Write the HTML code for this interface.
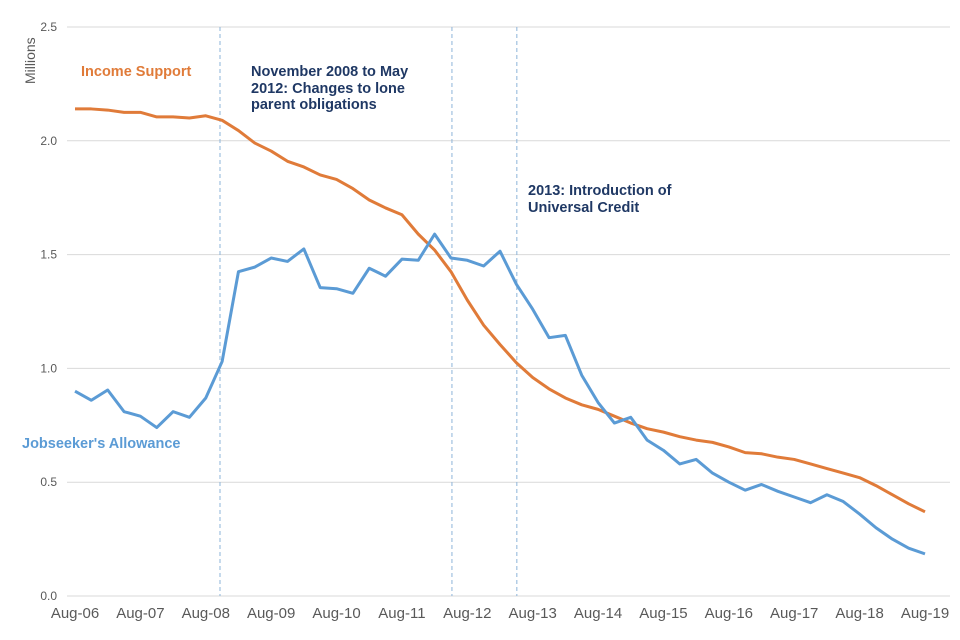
<!DOCTYPE html>
<html><head><meta charset="utf-8"><style>
body{margin:0;background:#fff;font-family:"Liberation Sans",Arial,sans-serif}
svg{display:block}
</style></head><body>
<svg id="chart" width="960" height="640" xmlns="http://www.w3.org/2000/svg">
<g id="grid"></g>
<g id="yticks"></g>
<g id="xticks"></g>
<g id="events"></g>
<g id="series"></g>
<text transform="translate(35,84) rotate(-90)" font-size="14" fill="#595959">Millions</text>
<text x="81" y="76" font-size="14.5" font-weight="bold" fill="#E07B39">Income Support</text>
<text x="22" y="448" font-size="14.5" font-weight="bold" fill="#5B9BD5">Jobseeker's Allowance</text>
<g font-size="14.5" font-weight="bold" fill="#1F3864">
<text x="251" y="76">November 2008 to May</text>
<text x="251" y="93">2012:  Changes to lone</text>
<text x="251" y="109">parent obligations</text></g>
<g font-size="14.5" font-weight="bold" fill="#1F3864">
<text x="528" y="195">2013:  Introduction of</text>
<text x="528" y="212">Universal Credit</text></g>
</svg>
<script>
const yTicks=[0,0.5,1,1.5,2,2.5];
const yTickLabels=["0.0","0.5","1.0","1.5","2.0","2.5"];
const xTickLabels=["Aug-06","Aug-07","Aug-08","Aug-09","Aug-10","Aug-11","Aug-12","Aug-13","Aug-14","Aug-15","Aug-16","Aug-17","Aug-18","Aug-19"];
const incomeSupport=[2.14,2.14,2.135,2.125,2.125,2.105,2.105,2.10,2.11,2.09,2.045,1.99,1.955,1.91,1.885,1.85,1.83,1.79,1.74,1.705,1.675,1.59,1.52,1.425,1.30,1.19,1.105,1.025,0.96,0.91,0.87,0.84,0.82,0.79,0.76,0.735,0.72,0.70,0.685,0.675,0.655,0.63,0.625,0.61,0.60,0.58,0.56,0.54,0.52,0.485,0.445,0.405,0.37];
const jsa=[0.90,0.86,0.905,0.81,0.79,0.74,0.81,0.785,0.87,1.03,1.425,1.445,1.485,1.47,1.525,1.355,1.35,1.33,1.44,1.405,1.48,1.475,1.59,1.485,1.475,1.45,1.515,1.37,1.26,1.135,1.145,0.97,0.85,0.76,0.785,0.685,0.64,0.58,0.60,0.54,0.50,0.465,0.49,0.46,0.435,0.41,0.445,0.415,0.36,0.30,0.25,0.21,0.185];
const eventIndex=[8.87,23.06,27.03];
const NS="http://www.w3.org/2000/svg";
const x0=75,x1=925,yb=596,yt=27;
const X=i=>x0+i*(x1-x0)/(jsa.length-1);
const Y=v=>yb-(v/2.5)*(yb-yt);
function mk(tag,attrs,parent){const e=document.createElementNS(NS,tag);for(const k in attrs)e.setAttribute(k,attrs[k]);document.getElementById(parent).appendChild(e);return e;}
yTicks.forEach((v,i)=>{
 const l=mk('line',{x1:67,x2:950,y1:Y(v),y2:Y(v),stroke:'#d9d9d9','stroke-width':1},'grid');
 
 
 const t=mk('text',{x:57,y:Y(v)+4,'text-anchor':'end','font-size':12,fill:'#595959'},'yticks');
 
 
 t.textContent=yTickLabels[i];
});
xTickLabels.forEach((s,i)=>{
 const t=mk('text',{x:X(i*4),y:618,'text-anchor':'middle','font-size':15,fill:'#595959'},'xticks');
 
 
 t.textContent=s;
});
eventIndex.forEach(i=>{
 const l=mk('line',{x1:X(i),x2:X(i),y1:27,y2:596,stroke:'#8DB4D9','stroke-width':1,'stroke-dasharray':'4,3'},'events');
 
 
});
function line(data,color,name){
 const p=mk('polyline',{points:data.map((v,i)=>X(i)+','+Y(v)).join(' '),fill:'none',stroke:color,'stroke-width':3,'stroke-linejoin':'round'},'series');
 
 
}
line(incomeSupport,'#E07B39','income-support-line');
line(jsa,'#5B9BD5','jsa-line');
</script>
</body></html>
